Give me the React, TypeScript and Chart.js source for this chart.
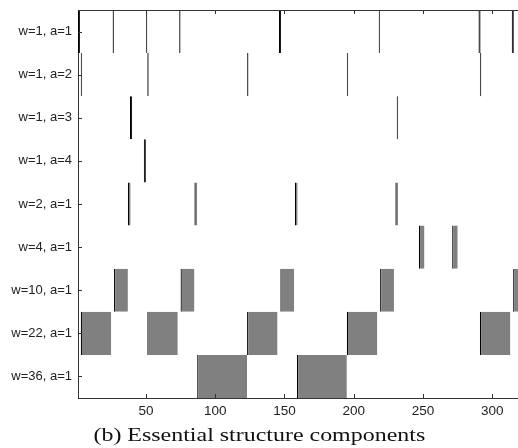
import React, { useEffect, useRef } from 'react';
import { Chart, registerables } from 'chart.js';

Chart.register(...registerables);

// Row labels (top to bottom)
const rowLabels = [
  'w=1, a=1',
  'w=1, a=2',
  'w=1, a=3',
  'w=1, a=4',
  'w=2, a=1',
  'w=4, a=1',
  'w=10, a=1',
  'w=22, a=1',
  'w=36, a=1',
];

// Segments [start, end] for each row
const segW1A1 = [[1, 2.5], [26, 27], [50, 51], [74, 75], [146, 147.5], [218, 219], [290, 291.5], [314, 315.5]];
const segW1A2 = [[3, 4], [51, 52], [123, 124], [195, 196], [291, 292]];
const segW1A3 = [[38.5, 40], [231, 232]];
const segW1A4 = [[48.5, 50]];
const segW2A1 = [[37, 39], [85, 87], [157.5, 159.5], [230, 232]];
const segW4A1 = [[247, 251], [271, 275]];
const segW10A1 = [[27, 37], [75, 85], [147, 157], [219, 229], [315, 325]];
const segW22A1 = [[3, 25], [51, 73], [123, 145], [195, 217], [291, 313]];
const segW36A1 = [[87, 123], [159, 195]];

const rowSegments = [segW1A1, segW1A2, segW1A3, segW1A4, segW2A1, segW4A1, segW10A1, segW22A1, segW36A1];

const xTickValues = [50, 100, 150, 200, 250, 300];
const xMin = 1;
const xMax = 318.5;

const captionText = '(b) Essential structure components';

const boxTicksPlugin = {
  id: 'boxTicks',
  afterDraw(chart: any) {
    const { ctx, chartArea } = chart;
    const xs = chart.scales.x;
    const ys = chart.scales.y;
    ctx.save();
    ctx.strokeStyle = '#333';
    ctx.lineWidth = 1;
    // top border
    ctx.beginPath();
    ctx.moveTo(chartArea.left, chartArea.top + 0.5);
    ctx.lineTo(chartArea.right, chartArea.top + 0.5);
    ctx.stroke();
    const len = 4;
    ctx.beginPath();
    xTickValues.forEach((v) => {
      const px = Math.round(xs.getPixelForValue(v)) + 0.5;
      ctx.moveTo(px, chartArea.bottom);
      ctx.lineTo(px, chartArea.bottom - len);
      ctx.moveTo(px, chartArea.top);
      ctx.lineTo(px, chartArea.top + len);
    });
    rowLabels.forEach((_, i) => {
      const py = Math.round(ys.getPixelForValue(i)) + 0.5;
      ctx.moveTo(chartArea.left, py);
      ctx.lineTo(chartArea.left + len, py);
    });
    ctx.stroke();
    ctx.restore();
  },
};

export default function App() {
  const canvasRef = useRef<HTMLCanvasElement | null>(null);

  useEffect(() => {
    const canvas = canvasRef.current;
    if (!canvas) return;
    const data: any[] = [];
    rowSegments.forEach((segs, i) => {
      segs.forEach((s) => data.push({ x: [s[0], s[1]], y: rowLabels[i] }));
    });
    const chart = new Chart(canvas, {
      type: 'bar',
      data: {
        labels: rowLabels,
        datasets: [
          {
            data,
            backgroundColor: (c: any) => {
              const r = c.raw;
              if (r && r.x && r.x[1] - r.x[0] <= 1.6) return '#1a1a1a';
              return '#808080';
            },
            borderColor: '#000',
            borderWidth: { left: 1.2, right: 0, top: 0, bottom: 0 },
            borderSkipped: false,
            barPercentage: 1,
            categoryPercentage: 1,
            inflateAmount: 0,
          } as any,
        ],
      },
      options: {
        indexAxis: 'y',
        animation: false,
        responsive: false,
        maintainAspectRatio: false,
        layout: { padding: { top: 10, right: 0, left: 0, bottom: 0 } },
        plugins: {
          legend: { display: false },
          tooltip: { enabled: false },
          title: { display: false },
        },
        scales: {
          x: {
            type: 'linear',
            min: xMin,
            max: xMax,
            grid: { display: false, drawTicks: false },
            border: { display: true, color: '#333', width: 1 },
            afterBuildTicks: (scale: any) => {
              scale.ticks = xTickValues.map((v) => ({ value: v }));
            },
            afterFit: (scale: any) => {
              scale.height = 50;
              scale.paddingLeft = 0;
              scale.paddingRight = 0;
            },
            ticks: {
              padding: 5,
              color: '#222',
              maxRotation: 0,
              autoSkip: false,
              font: { family: '"Liberation Sans", Arial, sans-serif', size: 13.5 },
            },
          },
          y: {
            type: 'category',
            grid: { display: false, drawTicks: false, offset: true },
            border: { display: true, color: '#333', width: 1 },
            afterFit: (scale: any) => {
              scale.width = 78;
              scale.paddingTop = 0;
              scale.paddingBottom = 0;
            },
            ticks: {
              padding: 6,
              color: '#222',
              autoSkip: false,
              font: { family: '"Liberation Sans", Arial, sans-serif', size: 13 },
            },
          },
        },
      } as any,
      plugins: [boxTicksPlugin],
    });
    return () => chart.destroy();
  }, []);

  return (
    <div style={{ position: 'fixed', left: 0, top: 0, width: 518, height: 448, background: '#fff', overflow: 'hidden' }}>
      <canvas ref={canvasRef} width={518} height={448} style={{ width: 518, height: 448, display: 'block' }} />
      <div
        style={{
          position: 'absolute',
          left: 0,
          top: 426,
          width: 518,
          textAlign: 'center',
          fontFamily: '"Liberation Serif", "Times New Roman", serif',
          fontSize: 18,
          lineHeight: '18px',
          color: '#111',
          whiteSpace: 'nowrap',
          transform: 'scaleX(1.33)',
          transformOrigin: '258px 0',
        }}
      >
        {captionText}
      </div>
    </div>
  );
}
